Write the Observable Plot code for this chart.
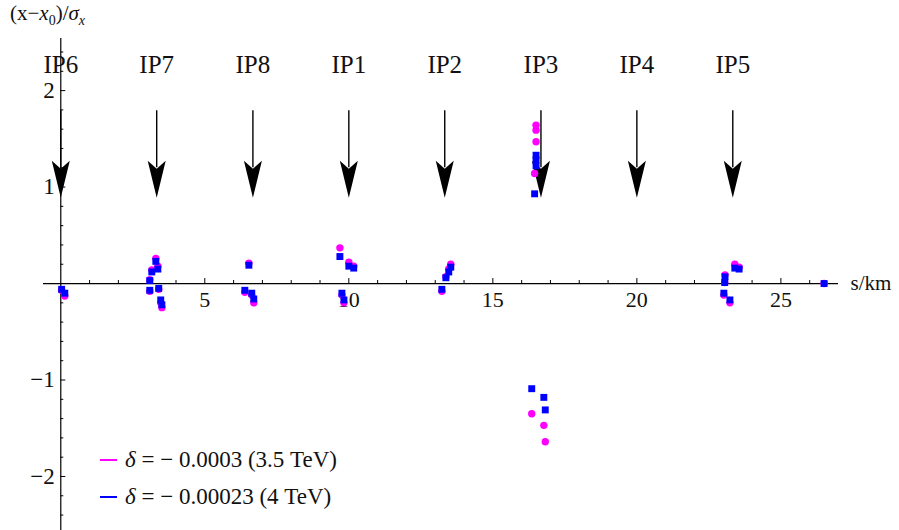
<!DOCTYPE html>
<html>
<head>
<meta charset="utf-8">
<script src="https://cdn.jsdelivr.net/npm/d3@7"></script>
<script src="https://cdn.jsdelivr.net/npm/@observablehq/plot@0.6"></script>
<style>
  html, body { margin: 0; padding: 0; background: #fff; }
  #wrap { position: relative; width: 899px; height: 530px; font-family: "Liberation Serif", "DejaVu Serif", serif; }
  #title { position: absolute; left: 10px; top: 1px; font-size: 21px; color: #111; }
  #title sub { font-size: 14px; }
  .leg { position: absolute; left: 100px; font-size: 23px; color: #111; display: flex; align-items: center; white-space: nowrap; }
  .leg .sw { width: 17px; height: 2px; margin-right: 8px; }
</style>
</head>
<body>
<div id="wrap">
  <div id="chart"></div>
  <div id="title">(x&minus;<i>x</i><sub>0</sub>)/<i>σ</i><sub><i>x</i></sub></div>
  <div class="leg" style="top:447px"><span class="sw" style="background:#ff00ff"></span><span><i>δ</i> = &minus; 0.0003 (3.5 TeV)</span></div>
  <div class="leg" style="top:484px"><span class="sw" style="background:#0000ff"></span><span><i>δ</i> = &minus; 0.00023 (4 TeV)</span></div>
</div>
<script>
// Interaction points
const ipNames = ["IP6", "IP7", "IP8", "IP1", "IP2", "IP3", "IP4", "IP5"];
const ipPos = [0, 3.33, 6.67, 10.0, 13.33, 16.67, 20.0, 23.33];

// Sample positions along the ring (km)
const sPos = [
  0.03, 0.14,
  3.09, 3.09, 3.16, 3.30, 3.37, 3.40, 3.47, 3.51,
  6.39, 6.53, 6.63, 6.70,
  9.69, 9.76, 9.83, 10.0, 10.17,
  13.23, 13.37, 13.47, 13.54,
  16.45, 16.50, 16.50, 16.50,
  16.35, 16.77, 16.82,
  23.02, 23.05, 23.06, 23.23, 23.40, 23.55,
  26.5
];
// (x - x0)/sigma_x, delta = -0.0003 (3.5 TeV)
const dev35 = [
  -0.07, -0.13,
  -0.08, 0.04, 0.14, 0.26, 0.18, -0.06, -0.20, -0.25,
  -0.09, 0.21, -0.12, -0.20,
  0.37, -0.12, -0.20, 0.22, 0.18,
  -0.08, 0.07, 0.15, 0.20,
  1.14, 1.47, 1.59, 1.64,
  -1.35, -1.47, -1.64,
  -0.12, 0.01, 0.09, -0.20, 0.20, 0.17,
  0.0
];
// (x - x0)/sigma_x, delta = -0.00023 (4 TeV)
const dev4 = [
  -0.06, -0.10,
  -0.07, 0.03, 0.12, 0.23, 0.15, -0.05, -0.17, -0.22,
  -0.07, 0.19, -0.10, -0.16,
  0.28, -0.10, -0.17, 0.18, 0.16,
  -0.06, 0.06, 0.12, 0.17,
  0.93, 1.22, 1.28, 1.33,
  -1.09, -1.18, -1.31,
  -0.10, 0.01, 0.07, -0.17, 0.16, 0.15,
  0.0
];

// Axis ticks
const xMajor = [5, 10, 15, 20, 25];
const xMinor = d3.range(1, 27).filter(v => v % 5 !== 0);
const yMajor = [-2, -1, 1, 2];
const yMinor = d3.range(-12, 13).map(v => v * 0.2).filter(v => Math.abs(v) > 1e-9 && Math.abs(Math.round(v) - v) > 1e-6);

const pts35 = sPos.map((s, i) => ({s, v: dev35[i]}));
const pts4 = sPos.map((s, i) => ({s, v: dev4[i]}));

const arrowHead = {
  draw(ctx) {
    ctx.moveTo(0, 0);
    ctx.lineTo(-9, -37);
    ctx.lineTo(0, -29);
    ctx.lineTo(9, -37);
    ctx.closePath();
  }
};

const xPerPx = 27.6 / 795;
const yPerPx = 5.1 / 492;

const chart = Plot.plot({
  width: 899,
  height: 530,
  marginLeft: 43,
  marginRight: 61,
  marginTop: 38,
  marginBottom: 0,
  x: {domain: [-0.6, 27.0], axis: null},
  y: {domain: [-2.56, 2.54], axis: null},
  style: {fontFamily: "'Liberation Serif', 'DejaVu Serif', serif", background: "#fff", color: "#111"},
  marks: [
    Plot.ruleY([0], {stroke: "#000", strokeWidth: 1.2}),
    Plot.ruleX([0], {stroke: "#000", strokeWidth: 1.2}),
    Plot.ruleX(xMinor, {x: d => d, y1: 0, y2: 3 * yPerPx, stroke: "#000", strokeWidth: 1}),
    Plot.ruleX(xMajor, {x: d => d, y1: 0, y2: 5 * yPerPx, stroke: "#000", strokeWidth: 1}),
    Plot.ruleY(yMinor, {y: d => d, x1: 0, x2: 3 * xPerPx, stroke: "#000", strokeWidth: 1}),
    Plot.ruleY(yMajor, {y: d => d, x1: 0, x2: 5 * xPerPx, stroke: "#000", strokeWidth: 1}),
    Plot.text(xMajor, {x: d => d, y: 0, dy: 16, text: d => String(d), fontSize: 22, lineAnchor: "middle"}),
    Plot.text(yMajor, {x: 0, y: d => d, dx: -6, text: d => (d < 0 ? "\u2212" + (-d) : String(d)), fontSize: 23, textAnchor: "end", lineAnchor: "middle"}),
    Plot.text(["s/km"], {frameAnchor: "right", y: 0, dx: 12, text: d => d, fontSize: 21, textAnchor: "start", lineAnchor: "middle"}),
    Plot.ruleX(ipPos, {x: d => d, y1: 1.2, y2: 1.79, stroke: "#000", strokeWidth: 1.4}),
    Plot.dot(ipPos, {x: d => d, y: 0.89, symbol: arrowHead, fill: "#000", stroke: "none", r: 1}),
    Plot.text(ipNames, {x: (d, i) => ipPos[i], y: 2.27, text: d => d, fontSize: 25, lineAnchor: "middle"}),
    Plot.dot(pts35, {x: "s", y: "v", r: 3.7, fill: "#ff00ff", stroke: "none"}),
    Plot.dot(pts4, {x: "s", y: "v", r: 3.9, symbol: "square", fill: "#0000ff", stroke: "none"})
  ]
});
document.getElementById("chart").appendChild(chart);
</script>
</body>
</html>
